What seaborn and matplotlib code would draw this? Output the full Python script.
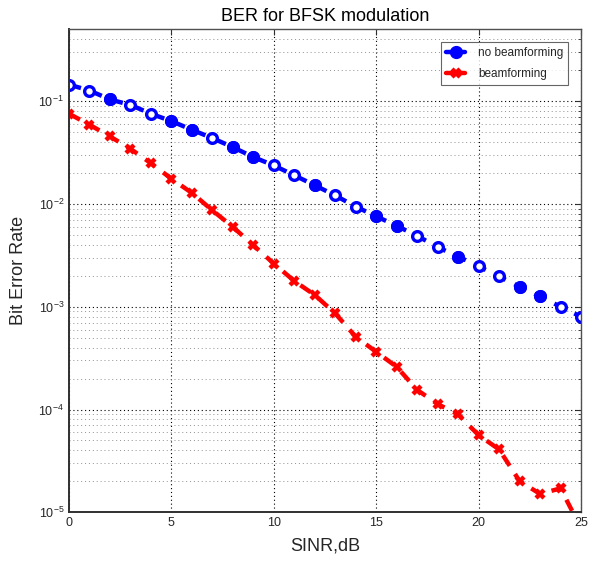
import numpy as np
import pandas as pd
import matplotlib
import matplotlib.pyplot as plt
from matplotlib.lines import Line2D
from matplotlib.ticker import LogLocator, NullFormatter
import seaborn as sns

matplotlib.use('Agg')

# ==========================================================
# DATA
# ==========================================================
sinr_db = list(range(0, 26))

ber_no_beam = [0.145, 0.127, 0.104, 0.092, 0.0755, 0.064, 0.0527, 0.0437, 0.0357,
               0.0286, 0.0237, 0.019, 0.0152, 0.0121, 0.00942, 0.00759, 0.00612,
               0.0049, 0.0038, 0.00308, 0.00247, 0.00197, 0.00156, 0.00126, 0.001,
               0.0008]

ber_beam = [0.0755, 0.059, 0.0454, 0.0344, 0.0249, 0.0176, 0.0128, 0.00867, 0.00597,
            0.00396, 0.00263, 0.00178, 0.0013, 0.00086, 0.00051, 0.000364, 0.00026,
            0.000155, 0.000113, 8.95e-5, 5.63e-5, 4.09e-5, 2.01e-5, 1.51e-5, 1.71e-5,
            7e-6]

series_labels = ["no beamforming", "beamforming"]

# circles that look filled in the original (where a dash covers the marker)
blue_filled = [2, 5, 6, 8, 9, 12, 15, 16, 19, 22, 23]

# ==========================================================
# STYLE
# ==========================================================
sns.set_theme(style="white")
plt.rcParams["font.family"] = ["Liberation Sans", "DejaVu Sans"]
plt.rcParams["mathtext.default"] = "regular"
plt.rcParams["axes.unicode_minus"] = False

BLUE = "#0000ff"
RED = "#ff0000"
TXT = "#262626"

df = pd.DataFrame({"sinr": sinr_db, "nobf": ber_no_beam, "bf": ber_beam})
df_fill = df.iloc[blue_filled]

fig = plt.figure(figsize=(5.98, 5.67), dpi=100)
ax = fig.add_axes([0.1154, 0.0965, 0.8562, 0.8517])

dash = (0, (2.8, 2.2))
sns.lineplot(data=df, x="sinr", y="nobf", ax=ax, color=BLUE, lw=3.2,
             linestyle=dash, marker="o", markersize=7, markerfacecolor="white",
             markeredgecolor=BLUE, markeredgewidth=2.4)
sns.lineplot(data=df_fill, x="sinr", y="nobf", ax=ax, color=BLUE, linestyle="none",
             marker="o", markersize=8.5, markerfacecolor=BLUE, markeredgecolor=BLUE)
sns.lineplot(data=df, x="sinr", y="bf", ax=ax, color=RED, lw=3.2,
             linestyle=dash, marker="x", markersize=5.5, markeredgewidth=3.2,
             markeredgecolor=RED)

ax.set_yscale("log")
ax.set_xlim(0, 25)
ax.set_ylim(1e-5, 0.5)
ax.set_xticks([0, 5, 10, 15, 20, 25])
ax.yaxis.set_major_locator(LogLocator(base=10, numticks=10))
ax.yaxis.set_minor_locator(LogLocator(base=10, subs=np.arange(2, 10), numticks=20))
ax.yaxis.set_minor_formatter(NullFormatter())

# grid, matlab style
ax.grid(True, which="major", axis="both", color="black", linestyle=(0, (1, 2.5)), lw=0.8)
ax.grid(True, which="minor", axis="y", color="#909090", linestyle=(0, (1, 3)), lw=0.7)

ax.tick_params(which="both", direction="in", top=True, right=True,
               colors="#303030", labelcolor=TXT, labelsize=9)
ax.tick_params(which="major", length=4, width=0.8)
ax.tick_params(which="minor", length=2, width=0.6)
for side in ["left", "bottom"]:
    ax.spines[side].set_color("#303030")
    ax.spines[side].set_linewidth(1.4)
for side in ["top", "right"]:
    ax.spines[side].set_color("#505050")
    ax.spines[side].set_linewidth(1.0)

ax.set_title("BER for BFSK modulation", fontsize=13, color="black", pad=6)
ax.set_xlabel("SINR,dB", fontsize=13, color=TXT, labelpad=6)
ax.set_ylabel("Bit Error Rate", fontsize=13, color=TXT, labelpad=8)

handles = [
    Line2D([], [], color=BLUE, lw=3.2, marker="o", markersize=8.5,
           markerfacecolor=BLUE, markevery=[1]),
    Line2D([], [], color=RED, lw=3.2, marker="x", markersize=5.5,
           markeredgewidth=3.2, markevery=[1]),
]
leg = ax.legend(handles, series_labels, loc="upper right", fontsize=8.5,
                frameon=True, fancybox=False, handlelength=1.6,
                borderaxespad=1.1, labelspacing=0.75, handletextpad=1.1)
leg.get_frame().set_edgecolor("#404040")
leg.get_frame().set_linewidth(0.8)

plt.savefig("out.png", dpi=100)
plt.close()
